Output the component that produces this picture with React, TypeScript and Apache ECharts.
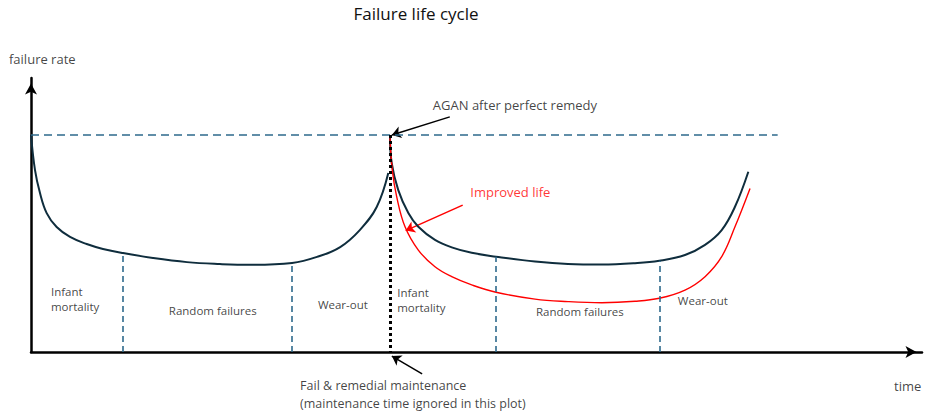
import React, { useEffect, useRef } from "react";
import * as echarts from "echarts";

// ---- data (time 0..100, failure rate 0..100, arbitrary units) ----
const CURVE1_T = [0, 0.45, 1.01, 1.76, 2.88, 4.38, 6.25, 8.08, 10.33, 13.69, 17.5, 21.2, 24.6, 29.3, 32.1, 34.7, 36.9, 38.8, 40.1];
const CURVE1_R = [79.2, 66.4, 58.0, 50.7, 45.6, 42.0, 39.4, 37.6, 36.1, 34.3, 32.8, 32.1, 31.8, 32.5, 34.7, 38.3, 44.5, 52.9, 65.3];

const CURVE2_T = [40.29, 40.48, 41.22, 42.35, 43.47, 45.34, 47.22, 49.46, 52.19, 56.57, 60.27, 64.05, 67.79, 70.52, 73.4, 75.65, 77.52, 79.01, 80.51];
const CURVE2_R = [79.0, 69.0, 59.1, 50.7, 45.7, 40.9, 38.2, 36.2, 34.8, 33.0, 32.1, 31.9, 32.4, 33.3, 35.4, 39.1, 44.5, 53.0, 65.8];

const IMPROVED_T = [40.29, 40.55, 41.04, 41.98, 43.47, 45.34, 47.22, 49.46, 52.19, 56.57, 60.27, 64.05, 67.79, 70.52, 73.4, 75.65, 77.52, 79.01, 80.7];
const IMPROVED_R = [78.0, 66.4, 56.7, 45.7, 37.2, 31.1, 27.5, 24.5, 21.8, 19.3, 18.4, 18.0, 18.5, 19.6, 22.6, 27.5, 34.8, 45.7, 59.7];

const AGAN_LEVEL = 79.2;
const AGAN_END_T = 83.8;
const REPAIR_T = 40.3;

const PHASE_BOUNDARY_T = [10.33, 29.3, 52.19, 70.52];
const PHASE_BOUNDARY_R = [36.1, 32.5, 34.8, 33.3];

const PHASE_LABELS = ["Infant\nmortality", "Random failures", "Wear-out", "Infant\nmortality", "Random failures", "Wear-out"];
const PHASE_LABEL_T = [2.24, 20.4, 35.0, 41.1, 61.6, 75.4];
const PHASE_LABEL_R = [19.3, 15.3, 17.5, 19.0, 14.6, 18.8];

// arrows: [fromT, fromR, toT, toR]
const AGAN_ARROW = [47.0, 85.8, 40.5, 79.2];
const IMPROVED_ARROW = [48.45, 53.6, 42.05, 44.3];
const REPAIR_ARROW = [43.9, -8.0, 40.5, -1.5];

const FONT = '"Open Sans", "Noto Sans", sans-serif';
const NAVY = "#0f2d3d";
const TEAL = "#2e6a8c";
const RED = "#ff0000";
const TXT = "#111111";

const zip = (a: number[], b: number[]) => a.map((v, i) => [v, b[i]]);

export default function App() {
  const ref = useRef<HTMLDivElement>(null);
  useEffect(() => {
    document.body.style.margin = "0";
    if (!ref.current) return;
    const chart = echarts.init(ref.current, undefined, { renderer: "svg" });

    const arrowItem = (a: number[], color: string) => ({
      coords: [
        [a[0], a[1]],
        [a[2], a[3]],
      ],
      lineStyle: { color, width: 1.5, opacity: 1 },
    });

    const annotations: any[] = [];
    PHASE_LABELS.forEach((txt, i) => {
      const left = txt.startsWith("Infant");
      annotations.push({
        value: [PHASE_LABEL_T[i], PHASE_LABEL_R[i]],
        label: { formatter: txt, align: left ? "left" : "center", fontSize: 11.5, lineHeight: 15, color: TXT },
      });
    });
    annotations.push({ value: [45.1, 90.1], label: { formatter: "AGAN after perfect remedy", align: "left", fontSize: 13, color: TXT } });
    annotations.push({ value: [49.3, 58.4], label: { formatter: "Improved life", align: "left", fontSize: 13, color: RED } });
    annotations.push({ value: [30.2, -12.4], label: { formatter: "Fail & remedial maintenance", align: "left", fontSize: 12.5, color: TXT } });
    annotations.push({ value: [30.2, -18.7], label: { formatter: "(maintenance time ignored in this plot)", align: "left", fontSize: 12.5, color: TXT } });
    annotations.push({ value: [98.4, -12.4], label: { formatter: "time", align: "center", fontSize: 13, color: TXT } });
    annotations.push({ value: [-2.47, 106.9], label: { formatter: "failure rate", align: "left", fontSize: 13, color: TXT } });

    const axisCommon = {
      type: "value" as const,
      min: 0,
      max: 100,
      axisLine: {
        show: true,
        onZero: false,
        symbol: ["none", "arrow"],
        symbolSize: [9, 11],
        symbolOffset: [0, -5.5],
        lineStyle: { color: "#000", width: 2.5 },
      },
      axisTick: { show: false },
      axisLabel: { show: false },
      splitLine: { show: false },
    };

    const curve = (name: string, t: number[], r: number[], color: string, width: number) => ({
      name,
      type: "line",
      data: zip(t, r),
      symbol: "none",
      smooth: 0.4,
      lineStyle: { color, width },
      silent: true,
    });

    chart.setOption({
      animation: false,
      textStyle: { fontFamily: FONT },
      grid: { left: 31, right: 3, top: 78, bottom: 65, containLabel: false, outerBoundsMode: "none" },
      xAxis: axisCommon,
      yAxis: axisCommon,
      graphic: [
        {
          type: "text",
          x: 416,
          y: 13,
          style: { text: "Failure life cycle", fontSize: 17, fontFamily: FONT, fill: TXT, align: "center", verticalAlign: "middle" },
        },
      ],
      series: [
        {
          name: "reference",
          type: "line",
          data: [],
          silent: true,
          markLine: {
            silent: true,
            symbol: ["none", "none"],
            label: { show: false },
            emphasis: { disabled: true },
            data: [
              [
                { coord: [0, AGAN_LEVEL], lineStyle: { color: TEAL, width: 1.6, type: [8, 5] } },
                { coord: [AGAN_END_T, AGAN_LEVEL] },
              ],
              ...PHASE_BOUNDARY_T.map((t, i) => [
                { coord: [t, 0], lineStyle: { color: TEAL, width: 1.6, type: [6, 4] } },
                { coord: [t, PHASE_BOUNDARY_R[i]] },
              ]),
              [
                { coord: [REPAIR_T, AGAN_LEVEL], lineStyle: { color: "#000", width: 3, type: [3, 3] } },
                { coord: [REPAIR_T, 0] },
              ],
            ],
          },
        },
        curve("Original life (1st)", CURVE1_T, CURVE1_R, NAVY, 2),
        curve("Original life (2nd)", CURVE2_T, CURVE2_R, NAVY, 2),
        curve("Improved life", IMPROVED_T, IMPROVED_R, RED, 1.4),
        {
          name: "arrows",
          type: "lines",
          coordinateSystem: "cartesian2d",
          clip: false,
          silent: true,
          symbol: ["none", "arrow"],
          symbolSize: 9,
          lineStyle: { opacity: 1 },
          data: [arrowItem(AGAN_ARROW, "#000"), arrowItem(IMPROVED_ARROW, RED), arrowItem(REPAIR_ARROW, "#000")],
        },
        {
          name: "annotations",
          type: "scatter",
          data: annotations,
          symbolSize: 0,
          itemStyle: { color: "transparent" },
          clip: false,
          silent: true,
          label: { show: true, position: "inside", verticalAlign: "middle", fontFamily: FONT },
        },
      ],
    });
    return () => chart.dispose();
  }, []);
  return <div ref={ref} style={{ width: 925, height: 417 }} />;
}
